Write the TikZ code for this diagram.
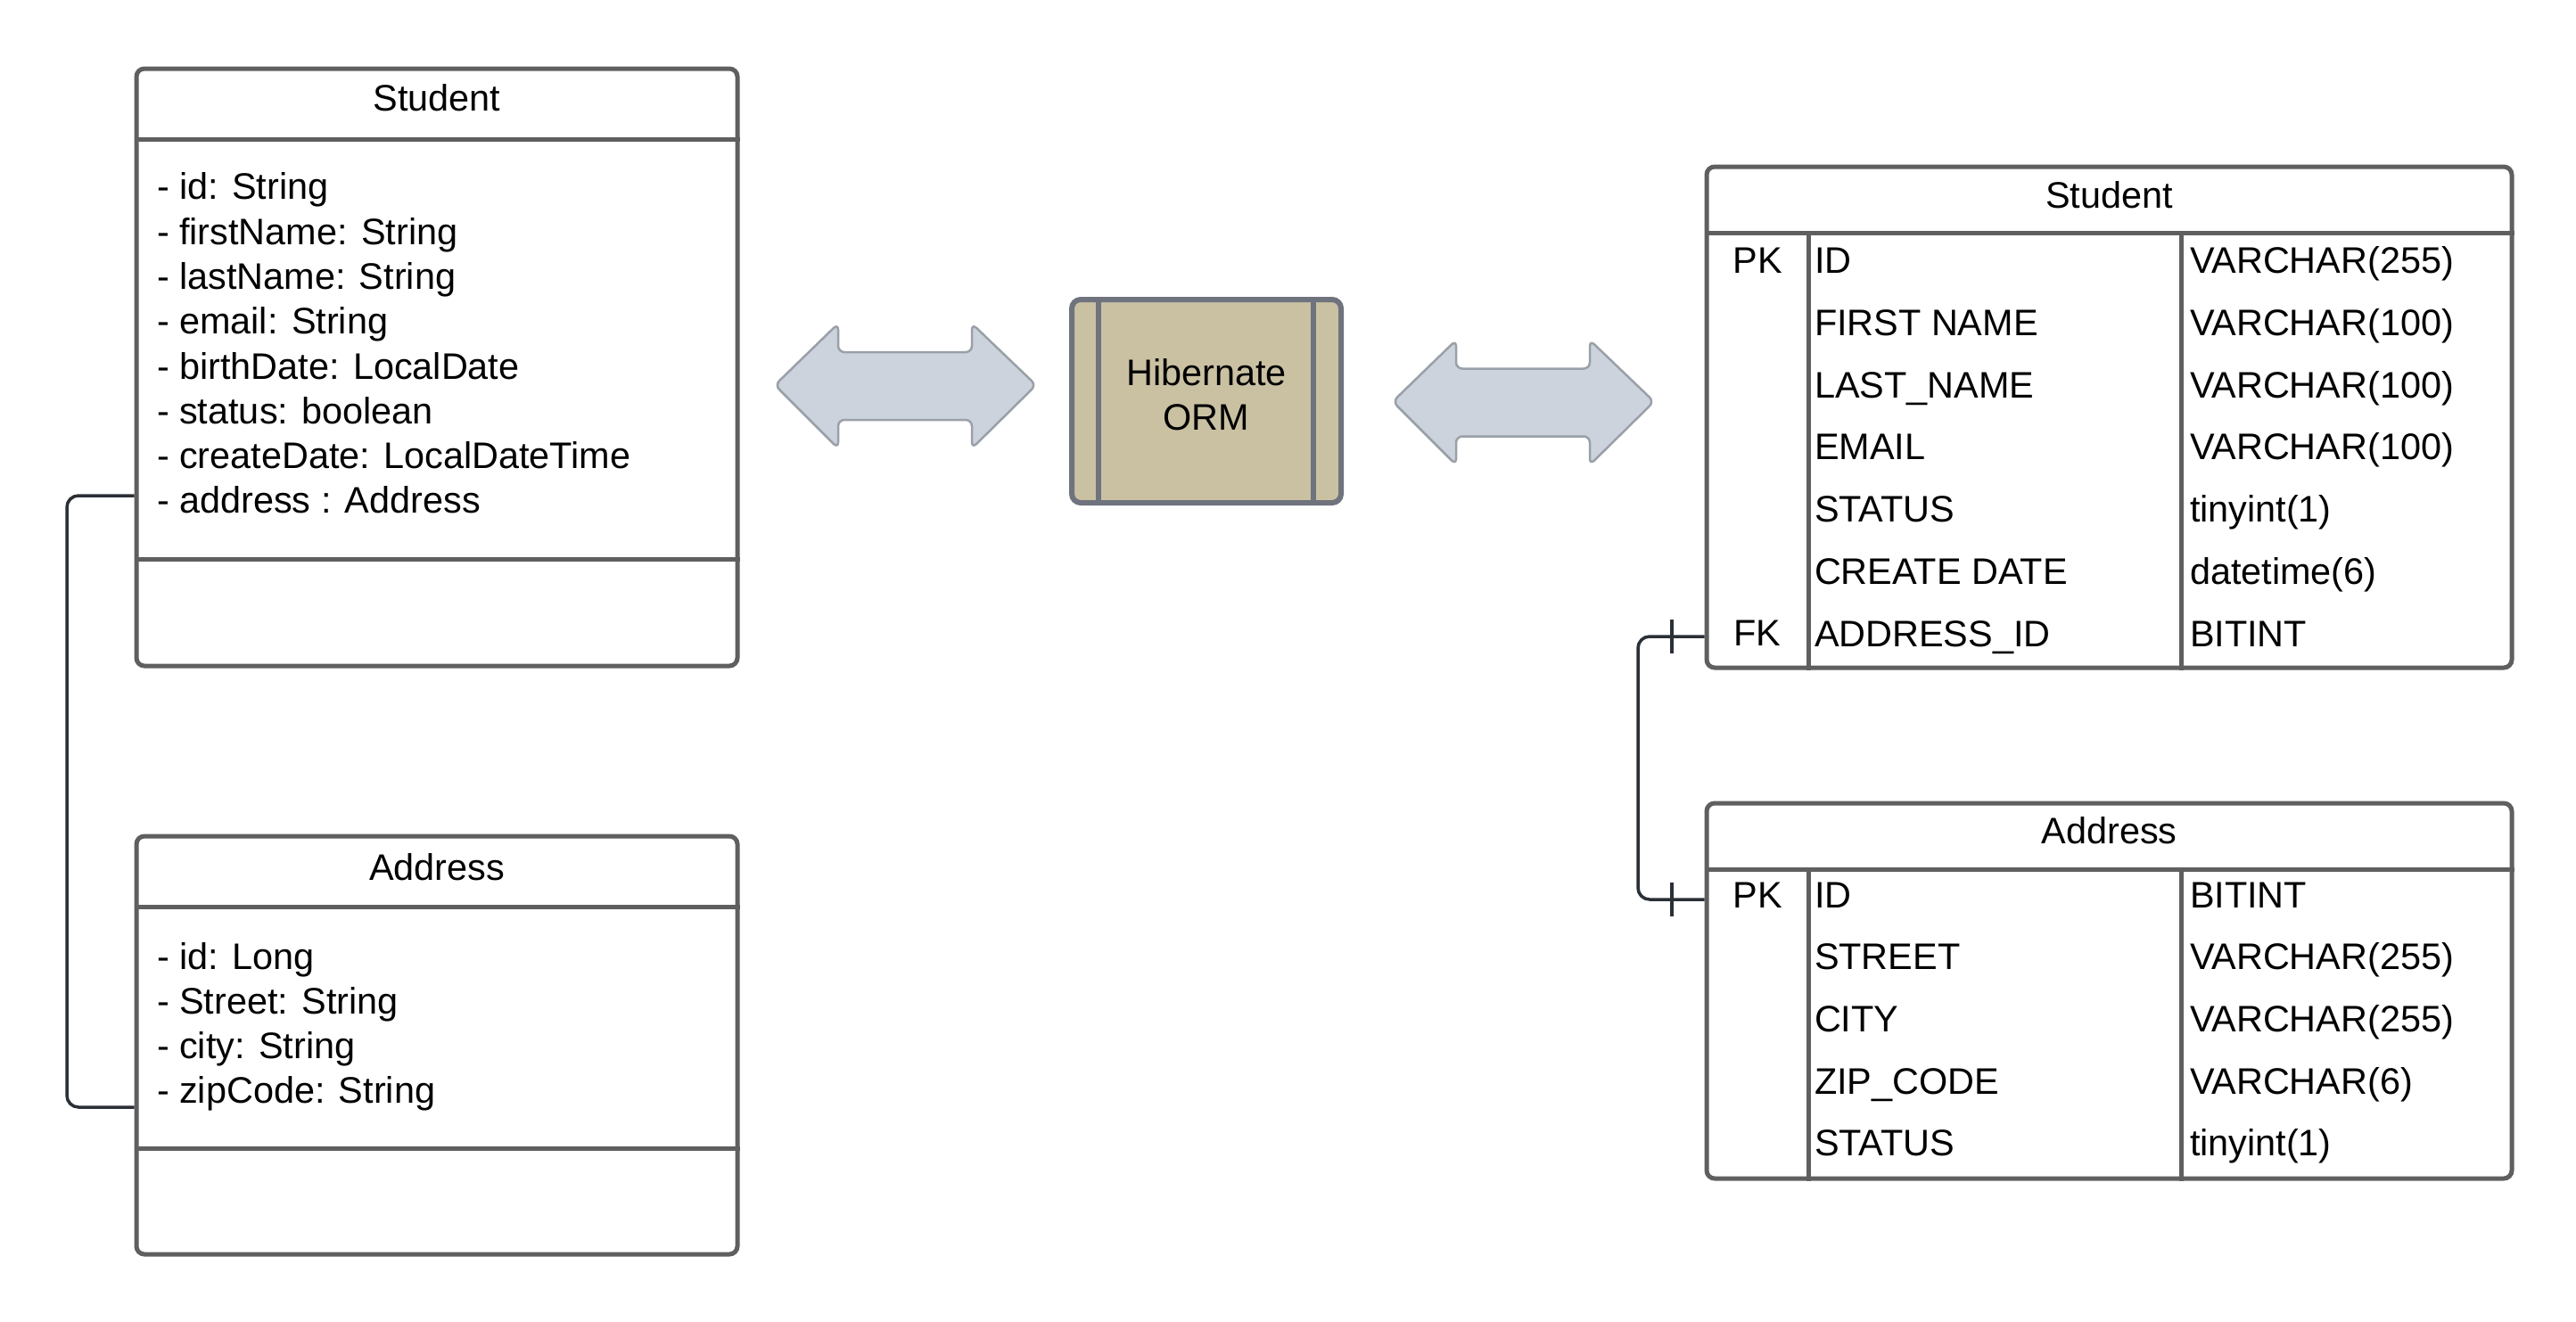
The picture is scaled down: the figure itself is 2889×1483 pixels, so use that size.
\documentclass[tikz,border=0pt]{standalone}
\usepackage{fontspec}
\setmainfont{Liberation Sans}
\definecolor{bord}{HTML}{5F5F5F}
\definecolor{conn}{HTML}{2B2F36}
\definecolor{arrfill}{HTML}{CDD3DC}
\definecolor{arrline}{HTML}{9AA0A8}
\definecolor{ormfill}{HTML}{CAC1A3}
\definecolor{ormline}{HTML}{6E737E}
\tikzset{
  box/.style={draw=bord, line width=5pt, rounded corners=9pt, rectangle, inner sep=0pt, fill=white},
  rule/.style={draw=bord, line width=5pt},
  txt/.style={inner sep=0pt, outer sep=0pt, text height=29.6pt, text depth=0pt, font=\fontsize{41.4}{49}\selectfont},
  connector/.style={draw=conn, line width=3.5pt, rounded corners=13pt},
  tick/.style={draw=conn, line width=3.5pt},
  bigarrow/.style={fill=arrfill, draw=arrline, line width=2.5pt, rounded corners=7pt, line join=round},
}
\begin{document}
\begin{tikzpicture}[x=1pt,y=-1pt]
\fill[white] (0,0) rectangle (2889,1483);
\useasboundingbox (0,0) rectangle (2889,1483);

% ---------- left UML classes ----------
\node[box, minimum width=674pt, minimum height=670pt] (stu) at (490,412) {};
\draw[rule] (stu.west |- 0,156) -- (stu.east |- 0,156);
\draw[rule] (stu.west |- 0,627) -- (stu.east |- 0,627);
\node[txt] (stutitle) at (490,110) {Student};
\foreach \t [count=\i from 0] in {- id: String, - firstName: String, - lastName: String, - email: String, - birthDate: LocalDate, - status: boolean, - createDate: LocalDateTime, - address : Address}
  \node[txt, anchor=west] (ls\i) at (176,209+50.3*\i) {\t};

\node[box, minimum width=674pt, minimum height=469pt] (addr) at (490,1172.5) {};
\draw[rule] (addr.west |- 0,1017) -- (addr.east |- 0,1017);
\draw[rule] (addr.west |- 0,1288) -- (addr.east |- 0,1288);
\node[txt] (addrtitle) at (490,972.5) {Address};
\foreach \t [count=\i from 0] in {- id: Long, - Street: String, - city: String, - zipCode: String}
  \node[txt, anchor=west] (la\i) at (176,1073+50*\i) {\t};

\draw[connector] (stu.west |- 0,556) -- (75,556) -- (75,1242) -- (addr.west |- 0,1242);

% ---------- double arrows ----------
\draw[bigarrow] (869,432) -- (940,363) -- (940,395) -- (1090,395) -- (1090,363) -- (1162,432) -- (1090,503) -- (1090,471) -- (940,471) -- (940,503) -- cycle;
\begin{scope}[shift={(693,18.5)}]
\draw[bigarrow] (869,432) -- (940,363) -- (940,395) -- (1090,395) -- (1090,363) -- (1162,432) -- (1090,503) -- (1090,471) -- (940,471) -- (940,503) -- cycle;
\end{scope}

% ---------- Hibernate ORM ----------
\node[draw=ormline, fill=ormfill, line width=6pt, rounded corners=10pt, minimum width=302pt, minimum height=228pt, inner sep=0pt] (orm) at (1353,450) {};
\draw[draw=ormline, line width=6pt] (orm.north -| 1232,0) -- (orm.south -| 1232,0);
\draw[draw=ormline, line width=6pt] (orm.north -| 1473,0) -- (orm.south -| 1473,0);
\node[txt] (orm1) at (1353,418) {Hibernate};
\node[txt] (orm2) at (1353,468) {ORM};

% ---------- right DB tables ----------
\node[box, minimum width=903pt, minimum height=562pt] (rstu) at (2365.5,468) {};
\draw[rule] (rstu.west |- 0,261) -- (rstu.east |- 0,261);
\draw[rule] (rstu.south -| 2028,0) -- (2028,261);
\draw[rule] (rstu.south -| 2446,0) -- (2446,261);
\node[txt] (rstutitle) at (2365.5,219) {Student};
\node[txt] (rstupk) at (1971,292) {PK};
\node[txt] (rstufk) at (1971,710) {FK};
\foreach \a/\b [count=\i from 0] in {ID/VARCHAR(255), FIRST NAME/VARCHAR(100), LAST\_NAME/VARCHAR(100), EMAIL/VARCHAR(100), STATUS/tinyint(1), CREATE DATE/datetime(6), ADDRESS\_ID/BITINT}
{
  \node[txt, anchor=west] (rsn\i) at (2035,292+69.7*\i) {\a};
  \node[txt, anchor=west] (rst\i) at (2456,292+69.7*\i) {\b};
}

\node[box, minimum width=903pt, minimum height=421pt] (raddr) at (2365.5,1111.5) {};
\draw[rule] (raddr.west |- 0,975) -- (raddr.east |- 0,975);
\draw[rule] (raddr.south -| 2028,0) -- (2028,975);
\draw[rule] (raddr.south -| 2446,0) -- (2446,975);
\node[txt] (raddrtitle) at (2365.5,932) {Address};
\node[txt] (raddrpk) at (1971,1003.5) {PK};
\foreach \a/\b [count=\i from 0] in {ID/BITINT, STREET/VARCHAR(255), CITY/VARCHAR(255), ZIP\_CODE/VARCHAR(6), STATUS/tinyint(1)}
{
  \node[txt, anchor=west] (ran\i) at (2035,1003.5+69.6*\i) {\a};
  \node[txt, anchor=west] (rat\i) at (2456,1003.5+69.6*\i) {\b};
}

% relationship connector
\draw[connector] (rstu.west |- 0,714) -- (1837,714) -- (1837,1009) -- (raddr.west |- 0,1009);
\draw[tick] (1875,695) -- (1875,733);
\draw[tick] (1875,990) -- (1875,1028);
\end{tikzpicture}
\end{document}
